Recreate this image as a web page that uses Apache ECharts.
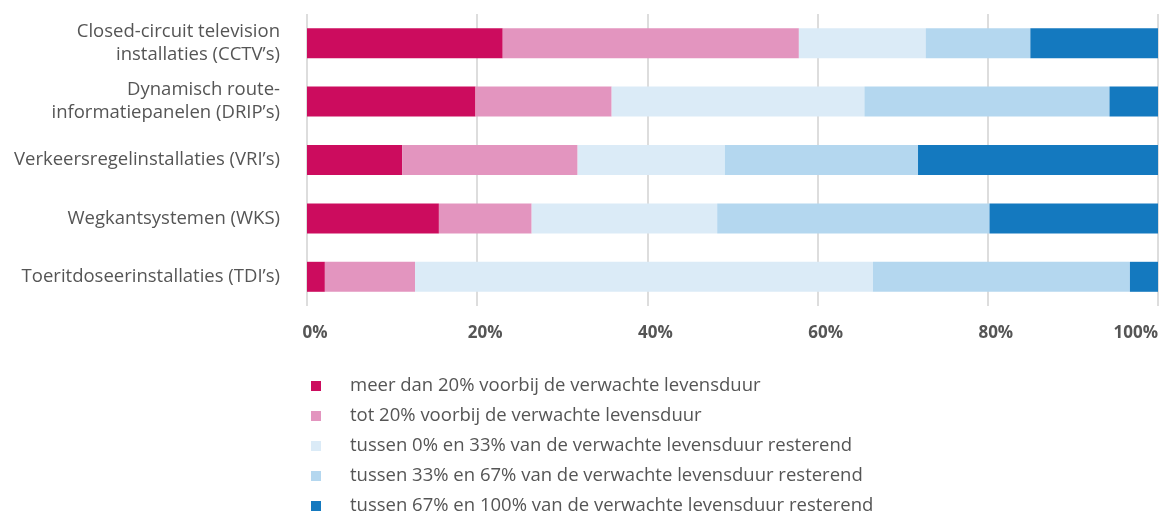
<!DOCTYPE html>
<html><head><meta charset="utf-8">
<script src="https://cdn.jsdelivr.net/npm/echarts@6/dist/echarts.min.js"></script>
<style>html,body{margin:0;padding:0;background:#fff}#c{width:1174px;height:514px}</style>
</head><body><div id="c"></div>
<script>
const categories = [
  "Closed-circuit television\ninstallaties (CCTV’s)",
  "Dynamisch route-\ninformatiepanelen (DRIP’s)",
  "Verkeersregelinstallaties (VRI’s)",
  "Wegkantsystemen (WKS)",
  "Toeritdoseerinstallaties (TDI’s)"
];
const seriesNames = [
  "meer dan 20% voorbij de verwachte levensduur",
  "tot 20% voorbij de verwachte levensduur",
  "tussen 0% en 33% van de verwachte levensduur resterend",
  "tussen 33% en 67% van de verwachte levensduur resterend",
  "tussen 67% en 100% van de verwachte levensduur resterend"
];
const meer20 = [23.0, 19.8, 11.2, 15.5, 2.1];
const tot20 = [34.8, 16.0, 20.6, 10.9, 10.6];
const rest0_33 = [14.9, 29.7, 17.3, 21.8, 53.8];
const rest33_67 = [12.3, 28.8, 22.7, 32.0, 30.2];
const rest67_100 = [15.0, 5.7, 28.2, 19.8, 3.3];
const tickValues = [0, 20, 40, 60, 80, 100];
const colors = ["#cc0c5e", "#e395bf", "#dbebf7", "#b4d7ef", "#1479bf"];
const allData = [meer20, tot20, rest0_33, rest33_67, rest67_100];

const chart = echarts.init(document.getElementById('c'), null, {renderer: 'canvas'});
const font = '"Open Sans", "Noto Sans", sans-serif';
chart.setOption({
  animation: false,
  color: colors,
  textStyle: {fontFamily: font},
  grid: {left: 307, right: 16, top: 14, bottom: 208, containLabel: false},
  xAxis: {
    type: 'value', min: 0, max: 100, interval: 20,
    axisLine: {show: false}, axisTick: {show: false},
    splitLine: {show: true, lineStyle: {color: '#dddddd', width: 2}},
    axisLabel: {formatter: v => v + '%', color: '#555', fontWeight: 'bold', fontSize: 17, margin: 19, fontFamily: font,
      padding: [0, 0, 0, 16], alignMaxLabel: 'right'}
  },
  yAxis: {
    type: 'category', data: categories, inverse: true,
    axisLine: {show: false}, axisTick: {show: false},
    axisLabel: {color: '#555', fontSize: 18.5, lineHeight: 23, margin: 27, align: 'right', fontFamily: font, padding: [0, 0, 5, 0]}
  },
  legend: {
    orient: 'vertical', left: 306, top: 371, height: 200, itemWidth: 10, itemHeight: 10, itemGap: 10,
    icon: 'rect', selectedMode: false,
    textStyle: {color: '#555', fontSize: 18.5, fontFamily: font, padding: [0, 0, 0, 24], lineHeight: 20},
    data: seriesNames
  },
  series: seriesNames.map((n, i) => ({
    name: n, type: 'bar', stack: 'total', data: allData[i], barWidth: 30,
    itemStyle: {color: colors[i]}
  }))
});
</script></body></html>
